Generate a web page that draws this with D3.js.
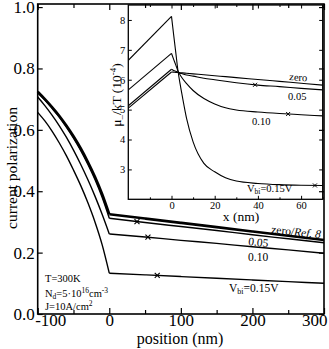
<!DOCTYPE html>
<html><head><meta charset="utf-8">
<script src="https://cdn.jsdelivr.net/npm/d3@7"></script>
<style>
html,body{margin:0;padding:0;background:#fff;}
svg, svg text{font-family:"Liberation Serif", serif;}
</style></head>
<body><svg id="c" width="329" height="349"></svg>
<script>
// ---------- main chart data ----------
const posLeft = [-100, -90, -80, -70, -60, -50, -40, -30, -20, -10, 0];
const posRight = [0, 50, 100, 150, 200, 250, 300];
const polZeroLeft = [0.724, 0.700, 0.674, 0.646, 0.614, 0.579, 0.540, 0.496, 0.447, 0.391, 0.325];
const pol005Left  = [0.721, 0.697, 0.670, 0.642, 0.609, 0.573, 0.533, 0.488, 0.438, 0.380, 0.312];
const pol010Left  = [0.707, 0.679, 0.648, 0.614, 0.576, 0.534, 0.488, 0.438, 0.384, 0.325, 0.261];
const pol015Left  = [0.657, 0.629, 0.596, 0.558, 0.516, 0.469, 0.419, 0.363, 0.300, 0.226, 0.133];
const polZeroRight = [0.325, 0.311, 0.297, 0.283, 0.269, 0.255, 0.241];
const pol005Right  = [0.312, 0.298, 0.285, 0.272, 0.258, 0.245, 0.232];
const pol010Right  = [0.261, 0.251, 0.240, 0.230, 0.219, 0.209, 0.198];
const pol015Right  = [0.133, 0.1275, 0.122, 0.1165, 0.111, 0.1055, 0.100];
const markerPos = [38.7, 54, 67];   // on 0.05, 0.10, 0.15
const mainXTicks = [-100, 0, 100, 200, 300];
const mainXMinor = [-50, 50, 150, 250];
const mainYTicks = [0, 0.2, 0.4, 0.6, 0.8, 1.0];

// ---------- inset data ----------
const xLeft = [-20, 0];
const xRight = [0, 1, 2, 3, 4, 5, 7, 10, 15, 20, 25, 30, 40, 50, 60, 70];
const muZeroLeft = [5.05, 6.26];
const mu005Left  = [5.13, 6.35];
const mu010Left  = [5.66, 6.88];
const mu015Left  = [6.65, 8.12];
const muZeroRight = [6.26, 6.254, 6.247, 6.241, 6.235, 6.229, 6.216, 6.197, 6.166, 6.134, 6.103, 6.071, 6.009, 5.946, 5.883, 5.82];
const mu005Right  = [6.35, 6.31, 6.28, 6.25, 6.22, 6.20, 6.16, 6.12, 6.05, 6.00, 5.95, 5.90, 5.82, 5.77, 5.71, 5.66];
const mu010Right  = [6.88, 6.68, 6.49, 6.29, 6.16, 6.05, 5.87, 5.64, 5.37, 5.19, 5.06, 4.99, 4.92, 4.87, 4.83, 4.79];
const mu015Right  = [8.12, 7.50, 6.90, 6.30, 5.85, 5.45, 4.70, 3.92, 3.20, 2.92, 2.72, 2.61, 2.53, 2.49, 2.47, 2.46];
const insetMarkerPos = [38.7, 54, 66.4];
const insetXTicks = [0, 20, 40, 60];
const insetXMinor = [-10, 10, 30, 50, 70];
const insetYTicks = [3, 4, 5, 6, 7, 8];

const FONT = "Liberation Serif";
const svg = d3.select("#c");
const zip = (xs, ys) => xs.map((x, i) => [x, ys[i]]);
const interp = (xs, ys, v) => {
  const i = d3.bisectLeft(xs, v);
  if (i <= 0) return ys[0];
  if (i >= xs.length) return ys[ys.length - 1];
  const t = (v - xs[i - 1]) / (xs[i] - xs[i - 1]);
  return ys[i - 1] + t * (ys[i] - ys[i - 1]);
};
const xMark = "M-2.5,-2.5L2.5,2.5M-2.5,2.5L2.5,-2.5";

// ---------- main scales ----------
const x = d3.scaleLinear([-100, 300], [37.7, 324]);
const y = d3.scaleLinear([0, 1.01], [314, 4]);
const line = d3.line().x(d => x(d[0])).y(d => y(d[1])).curve(d3.curveMonotoneX);

const mainSeries = [
  {L: polZeroLeft, R: polZeroRight, w: 2.6},
  {L: pol005Left, R: pol005Right, w: 1.4},
  {L: pol010Left, R: pol010Right, w: 1.4},
  {L: pol015Left, R: pol015Right, w: 1.4}
];
const gMain = svg.append("g");
mainSeries.forEach(s => {
  gMain.append("path").attr("d", line(zip(posLeft, s.L))).attr("fill", "none").attr("stroke", "#000").attr("stroke-width", s.w).attr("stroke-linejoin", "round");
  gMain.append("path").attr("d", line(zip(posRight, s.R))).attr("fill", "none").attr("stroke", "#000").attr("stroke-width", s.w).attr("stroke-linejoin", "round");
});
[pol005Right, pol010Right, pol015Right].forEach((arr, i) => {
  gMain.append("path").attr("d", xMark).attr("stroke", "#000").attr("stroke-width", 1.1).attr("fill", "none")
    .attr("transform", `translate(${x(markerPos[i])},${y(interp(posRight, arr, markerPos[i]))})`);
});

// main labels
const lab = (g, tx, ty, size, rot) => g.append("text").attr("font-family", FONT).attr("transform", `translate(${tx},${ty}) rotate(${rot || 0})`).attr("font-size", size);
const tZero = lab(gMain, 271, 233, 11.5, 6);
tZero.append("tspan").text("zero/");
tZero.append("tspan").attr("font-style", "italic").text("Ref. 8");
lab(gMain, 248, 245, 11.5, 6).text("0.05");
lab(gMain, 248, 261, 11.5, 0).text("0.10");
const tV = lab(gMain, 229, 292, 11.5, 0);
tV.append("tspan").text("V");
tV.append("tspan").attr("font-size", 8).attr("dy", 2).text("bi");
tV.append("tspan").attr("dy", -2).text("=0.15V");

const t1 = lab(gMain, 45, 282, 10.5, 0); t1.text("T=300K");
const t2 = lab(gMain, 45, 297, 10.5, 0);
t2.append("tspan").text("N");
t2.append("tspan").attr("font-size", 7.5).attr("dy", 2).text("d");
t2.append("tspan").attr("dy", -2).text("=5·10");
t2.append("tspan").attr("font-size", 7.5).attr("dy", -4).text("16");
t2.append("tspan").attr("dy", 4).text("cm");
t2.append("tspan").attr("font-size", 7.5).attr("dy", -4).text("-3");
const t3 = lab(gMain, 45, 310, 10.5, 0);
t3.append("tspan").text("J=10A/cm");
t3.append("tspan").attr("font-size", 7.5).attr("dy", -4).text("2");

// ---------- inset ----------
const ix = d3.scaleLinear([-20, 70], [128.3, 322.7]);
const iy = d3.scaleLinear([2, 8.5], [199.3, 5]);
const iline = d3.line().x(d => ix(d[0])).y(d => iy(d[1])).curve(d3.curveMonotoneX);
const gIn = svg.append("g");
gIn.append("rect").attr("x", ix(-20)).attr("y", iy(8.5)).attr("width", ix(70) - ix(-20)).attr("height", iy(2) - iy(8.5)).attr("fill", "#fff");
const insetSeries = [
  {L: muZeroLeft, R: muZeroRight}, {L: mu005Left, R: mu005Right},
  {L: mu010Left, R: mu010Right}, {L: mu015Left, R: mu015Right}
];
svg.append("clipPath").attr("id", "ic").append("rect").attr("x", ix(-20)).attr("y", iy(8.5)).attr("width", ix(70) - ix(-20)).attr("height", iy(2) - iy(8.5));
const gInL = gIn.append("g").attr("clip-path", "url(#ic)");
insetSeries.forEach(s => {
  gInL.append("path").attr("d", iline(zip(xLeft, s.L))).attr("fill", "none").attr("stroke", "#000").attr("stroke-width", 1.1);
  gInL.append("path").attr("d", iline(zip(xRight, s.R))).attr("fill", "none").attr("stroke", "#000").attr("stroke-width", 1.1);
});
[mu005Right, mu010Right, mu015Right].forEach((arr, i) => {
  gIn.append("path").attr("d", "M-2,-2L2,2M-2,2L2,-2").attr("stroke", "#000").attr("stroke-width", 1).attr("fill", "none")
    .attr("transform", `translate(${ix(insetMarkerPos[i])},${iy(interp(xRight, arr, insetMarkerPos[i]))})`);
});
lab(gIn, 289, 80, 10.5, 5).text("zero");
lab(gIn, 288, 100, 10.5, 0).text("0.05");
lab(gIn, 252, 125, 10.5, 0).text("0.10");
const iv = lab(gIn, 247, 192, 10.5, 0);
iv.append("tspan").text("V");
iv.append("tspan").attr("font-size", 7.5).attr("dy", 2).text("bi");
iv.append("tspan").attr("dy", -2).text("=0.15V");

// inset axes
const styleAxis = g => {
  g.attr("font-family", FONT);
  g.select(".domain").remove();
  g.selectAll("line").attr("stroke", "#000").attr("stroke-width", 1);
  g.selectAll("text").attr("font-family", FONT).attr("fill", "#000");
};
gIn.append("g").attr("transform", `translate(0,${iy(2)})`)
  .call(d3.axisBottom(ix).tickValues(insetXTicks).tickSize(-3.5).tickPadding(2.5).tickFormat(d => String(d)))
  .call(styleAxis).selectAll("text").attr("font-size", 10.5);
gIn.append("g").attr("transform", `translate(0,${iy(2)})`)
  .call(d3.axisBottom(ix).tickValues(insetXMinor).tickSize(-2).tickFormat("")).call(styleAxis);
gIn.append("g").attr("transform", `translate(0,${iy(8.5)})`)
  .call(d3.axisTop(ix).tickValues(insetXTicks).tickSize(-3.5).tickFormat("")).call(styleAxis);
gIn.append("g").attr("transform", `translate(0,${iy(8.5)})`)
  .call(d3.axisTop(ix).tickValues(insetXMinor).tickSize(-2).tickFormat("")).call(styleAxis);
gIn.append("g").attr("transform", `translate(${ix(-20)},0)`)
  .call(d3.axisLeft(iy).tickValues(insetYTicks).tickSize(-3.5).tickPadding(3).tickFormat(d => String(d)))
  .call(styleAxis).selectAll("text").attr("font-size", 10.5);
gIn.append("g").attr("transform", `translate(${ix(70)},0)`)
  .call(d3.axisRight(iy).tickValues(insetYTicks).tickSize(-3.5).tickFormat("")).call(styleAxis);
gIn.append("rect").attr("x", ix(-20)).attr("y", iy(8.5)).attr("width", ix(70) - ix(-20)).attr("height", iy(2) - iy(8.5))
  .attr("fill", "none").attr("stroke", "#000").attr("stroke-width", 1.3);
gIn.append("text").attr("font-family", FONT).attr("x", 241).attr("y", 221).attr("text-anchor", "middle").attr("font-size", 13.5).text("x (nm)");
const iyl = gIn.append("text").attr("font-family", FONT).attr("transform", "translate(121,95) rotate(-90)").attr("text-anchor", "middle").attr("font-size", 13.5);
iyl.append("tspan").text("μ");
iyl.append("tspan").attr("font-size", 9).attr("dy", 3).text("–");
iyl.append("tspan").attr("dy", -3).text("/kT (10");
iyl.append("tspan").attr("font-size", 9).attr("dy", -5).text("-4");
iyl.append("tspan").attr("dy", 5).text(")");

// ---------- main frame and axes (on top) ----------
const gAx = svg.append("g");
const bx = gAx.append("g").attr("transform", `translate(0,${y(0)})`)
  .call(d3.axisBottom(x).tickValues(mainXTicks).tickSize(-6).tickPadding(0).tickFormat(d => String(d)))
  .call(styleAxis);
bx.selectAll("text").attr("font-size", 17)
  .attr("text-anchor", d => d === mainXTicks[0] ? "start" : d === mainXTicks[mainXTicks.length - 1] ? "end" : "middle")
  .attr("dx", d => d === mainXTicks[0] ? -3 : d === mainXTicks[mainXTicks.length - 1] ? 3 : 0);
gAx.append("g").attr("transform", `translate(0,${y(0)})`)
  .call(d3.axisBottom(x).tickValues(mainXMinor).tickSize(-4).tickFormat("")).call(styleAxis);
gAx.append("g").attr("transform", `translate(0,${y(1.01)})`)
  .call(d3.axisTop(x).tickValues(mainXTicks).tickSize(-6).tickFormat("")).call(styleAxis);
gAx.append("g").attr("transform", `translate(0,${y(1.01)})`)
  .call(d3.axisTop(x).tickValues(mainXMinor).tickSize(-4).tickFormat("")).call(styleAxis);
gAx.append("g").attr("transform", `translate(${x(-100)},0)`)
  .call(d3.axisLeft(y).tickValues(mainYTicks).tickSize(-5).tickPadding(3).tickFormat(d3.format(".1f")))
  .call(styleAxis).selectAll("text").attr("font-size", 17);
gAx.append("g").attr("transform", `translate(${x(300)},0)`)
  .call(d3.axisRight(y).tickValues(mainYTicks).tickSize(-5).tickFormat("")).call(styleAxis);
gAx.selectAll("line").attr("stroke-width", 1.2);
gAx.append("rect").attr("x", x(-100)).attr("y", y(1.01)).attr("width", x(300) - x(-100)).attr("height", y(0) - y(1.01))
  .attr("fill", "none").attr("stroke", "#000").attr("stroke-width", 1.6);
gAx.append("text").attr("font-family", FONT).attr("x", 180).attr("y", 344).attr("text-anchor", "middle").attr("font-size", 16).text("position (nm)");
gAx.append("text").attr("font-family", FONT).attr("transform", "translate(17,168) rotate(-90)").attr("text-anchor", "middle").attr("font-size", 15.5).text("current polarization");
</script></body></html>
